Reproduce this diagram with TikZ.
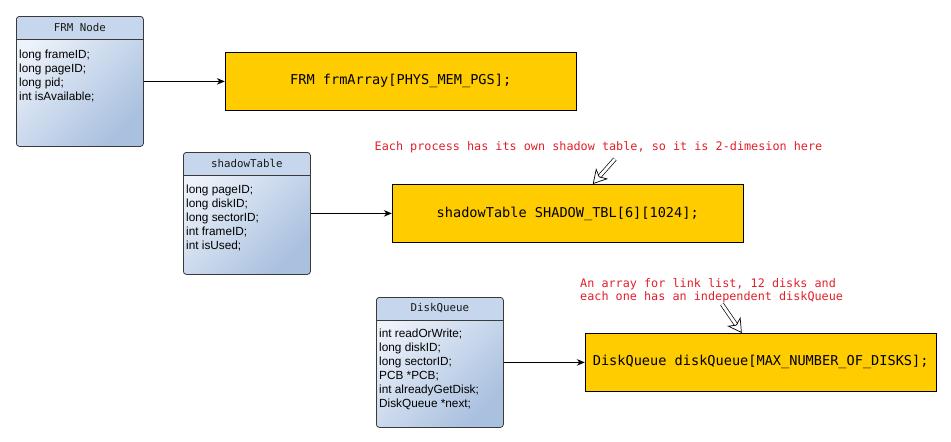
\documentclass[tikz,border=0pt]{standalone}
\usepackage{fontspec}
\setmainfont{Liberation Sans}
\setmonofont{DejaVu Sans Mono}
\usetikzlibrary{arrows.meta,positioning,calc}
\definecolor{Gold}{HTML}{FFCC00}
\definecolor{Edge}{HTML}{3A3A3A}
\definecolor{Head}{HTML}{C6D6EC}
\definecolor{Light}{HTML}{EEF3FA}
\definecolor{Steel}{HTML}{A9C0DF}
\definecolor{Note}{HTML}{E2202A}
\tikzset{
  record/.style={rounded corners=3pt,draw=Edge,line width=.8pt,anchor=north west,
    minimum width=127pt,left color=Light,right color=Steel,shading angle=45,
    path picture={
      \fill[Head] (path picture bounding box.north west) rectangle
        ([yshift=-23pt]path picture bounding box.north east);
      \draw[Edge,line width=.8pt] ([yshift=-23pt]path picture bounding box.north west) --
        ([yshift=-23pt]path picture bounding box.north east);}},
  title/.style={inner sep=0pt,text=black!90,font=\ttfamily\fontsize{10.8}{12}\selectfont},
  fields/.style={inner sep=0pt,anchor=north west,align=left,
    font=\fontsize{11.8}{14}\selectfont},
  array/.style={draw=black,line width=.8pt,fill=Gold,minimum width=351pt,
    minimum height=58pt,font=\ttfamily\fontsize{13.6}{16}\selectfont},
  note/.style={inner sep=0pt,text=Note,font=\ttfamily\fontsize{11.8}{12.6}\selectfont},
  link/.style={-{Stealth[length=8pt,width=6.5pt]},line width=.8pt},
  hollow/.style={double,double distance=2.8pt,line width=.7pt,
    -{Stealth[open,length=14pt,width=16pt,inset=4pt]}}
}
\begin{document}
\begin{tikzpicture}[x=1pt,y=-1pt]
  \useasboundingbox (0,0) rectangle (951,442);
  % structures
  \node[record,minimum height=130pt] (frm) at (16,16) {};
  \node[title] at ([yshift=-11.5pt]frm.north) {FRM Node};
  \node[fields] at ([xshift=3pt,yshift=-33.5pt]frm.north west)
    {long frameID;\\long pageID;\\long pid;\\int isAvailable;};
  \node[record,minimum height=122pt] (sha) at (183,152) {};
  \node[title] at ([yshift=-11.5pt]sha.north) {shadowTable};
  \node[fields] at ([xshift=3pt,yshift=-32.5pt]sha.north west)
    {long pageID;\\long diskID;\\long sectorID;\\int frameID;\\int isUsed;};
  \node[record,minimum height=130pt] (dsk) at (376,297) {};
  \node[title] at ([yshift=-11.5pt]dsk.north) {DiskQueue};
  \node[fields] at ([xshift=3pt,yshift=-31.5pt]dsk.north west)
    {int readOrWrite;\\long diskID;\\long sectorID;\\PCB *PCB;\\int alreadyGetDisk;\\DiskQueue *next;};
  % arrays
  \node[array,right=81pt of frm] (frmArr) {FRM frmArray[PHYS\_MEM\_PGS];};
  \node[array,right=81pt of sha] (shaArr) {shadowTable SHADOW\_TBL[6][1024];};
  \node[array,right=81pt of dsk] (dskArr) {DiskQueue diskQueue[MAX\_NUMBER\_OF\_DISKS];};
  \draw[link] (frm.east) -- (frmArr.west);
  \draw[link] (sha.east) -- (shaArr.west);
  \draw[link] (dsk.east) -- (dskArr.west);
  % notes
  \node[note] (shaNote) at (598.5,147) {Each process has its own shadow table, so it is 2-dimesion here};
  \node[note,align=left,anchor=west] (dskNote) at (580,291)
    {An array for link list, 12 disks and\\each one has an independent diskQueue};
  \draw[hollow] ([xshift=16.5pt,yshift=-6pt]shaNote.south) -- ([xshift=201pt]shaArr.north west);
  \draw[hollow] ([xshift=142pt,yshift=-1pt]dskNote.south west) -- ([xshift=157pt]dskArr.north west);
\end{tikzpicture}
\end{document}
